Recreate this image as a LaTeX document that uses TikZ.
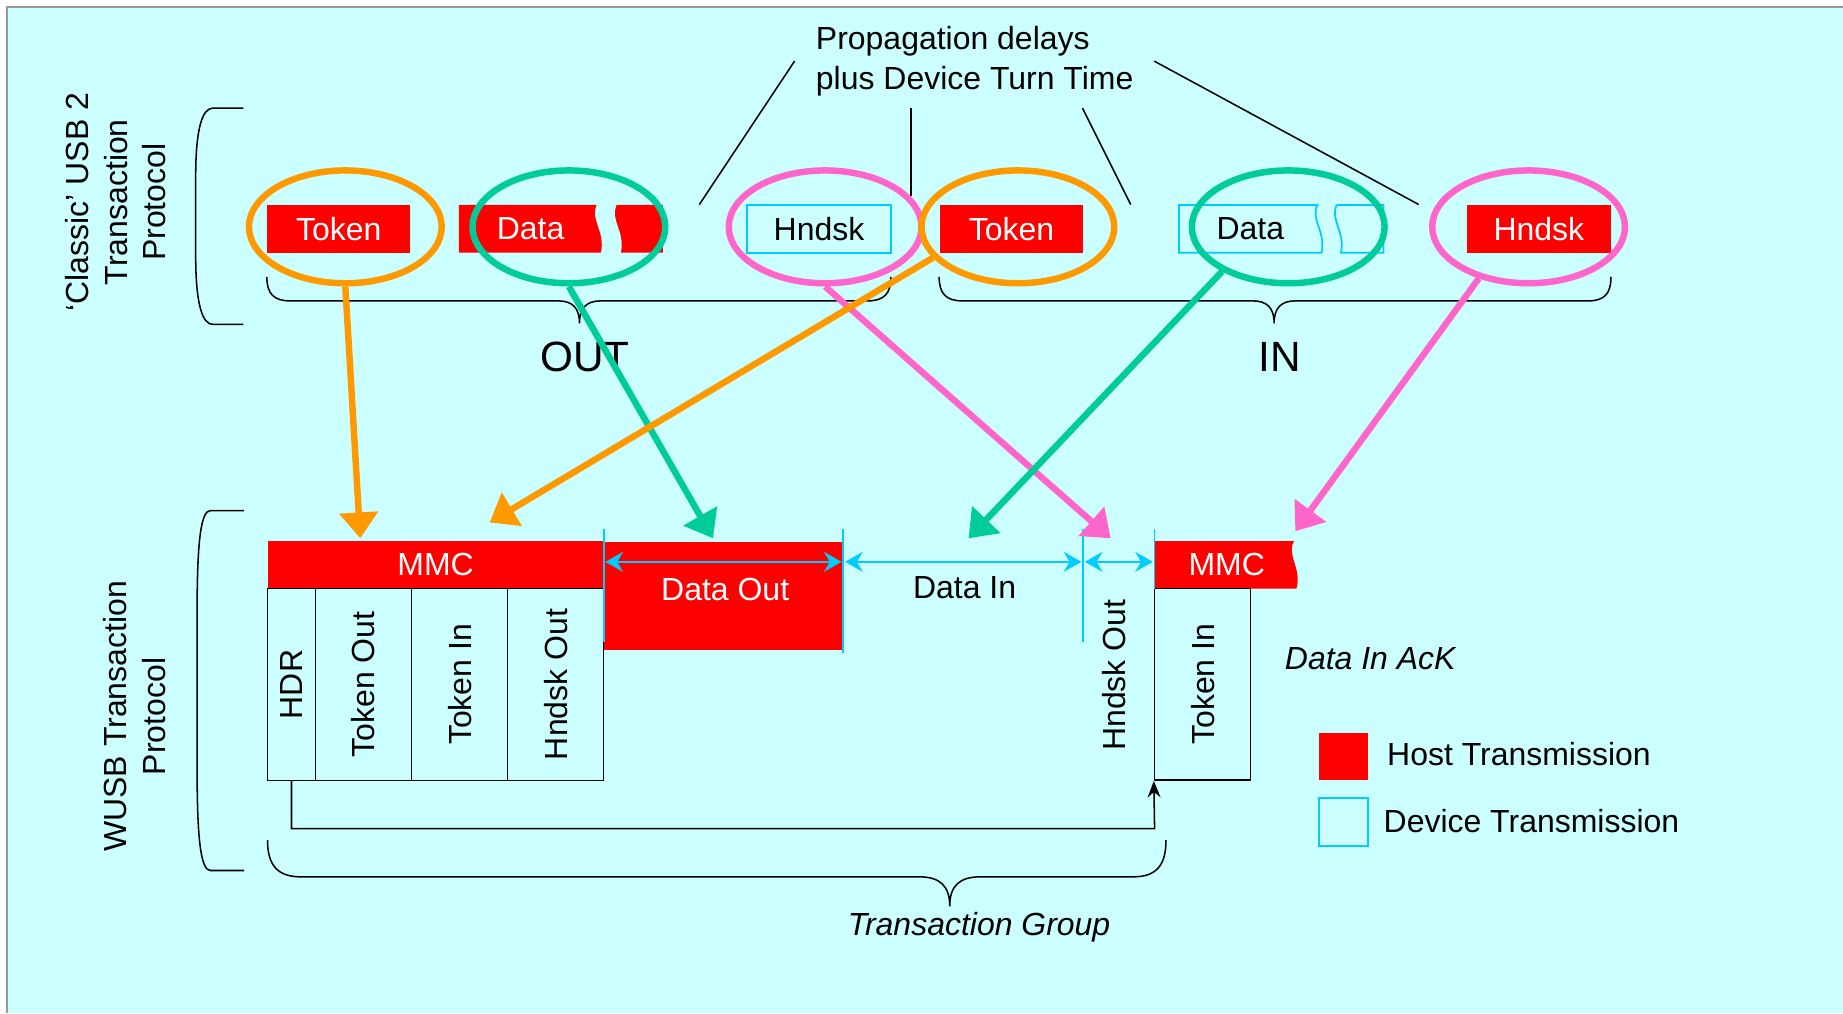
\documentclass[tikz,border=0pt]{standalone}
\usepackage{fontspec}
\setmainfont{Liberation Sans}
\usetikzlibrary{shapes.geometric,arrows.meta}
\definecolor{bgc}{HTML}{CCFFFF}
\definecolor{hostred}{HTML}{FF0000}
\definecolor{devcyan}{HTML}{00CCFF}
\definecolor{orng}{HTML}{FF9900}
\definecolor{tealc}{HTML}{00CC99}
\definecolor{pnk}{HTML}{FF66CC}
\definecolor{framec}{HTML}{999999}
\begin{document}
\begin{tikzpicture}[x=1pt,y=-1pt,
  txt/.style={font=\fontsize{27.2}{33}\selectfont, inner sep=0pt},
  itxt/.style={font=\fontsize{27.2}{33}\selectfont\itshape, inner sep=0pt},
  bigtxt/.style={font=\fontsize{36}{40}\selectfont, inner sep=0pt},
  hostpkt/.style={fill=hostred, text=white, font=\fontsize{27.2}{33}\selectfont, inner sep=0pt, minimum width=122pt, minimum height=40.5pt},
  devpkt/.style={draw=devcyan, line width=1.5pt, text=black, font=\fontsize{27.2}{33}\selectfont, inner sep=0pt, minimum width=122pt, minimum height=40.5pt},
  ring/.style={ellipse, draw=#1, line width=5.5pt, minimum width=164pt, minimum height=96pt, inner sep=0pt},
  bigarrow/.style={line width=5.5pt, draw=#1, -{Triangle[length=22pt,width=32pt]}},
  thinline/.style={line width=1.3pt, draw=black},
  bracestyle/.style={line width=1.3pt, draw=black},
  cyanline/.style={line width=1.5pt, draw=devcyan},
  dimarrow/.style={line width=1.5pt, draw=devcyan, {Stealth[length=15pt,width=17pt,inset=5pt]}-{Stealth[length=15pt,width=17pt,inset=5pt]}, shorten <=1.5pt, shorten >=1.5pt},
  cell/.style={draw=black, line width=1.3pt, inner sep=0pt, minimum height=163.1pt},
  hostbar/.style={fill=hostred, inner sep=0pt, text=white, font=\fontsize{27.2}{33}\selectfont}
]
\useasboundingbox (0,0) rectangle (1568,862);
% background and frame
\fill[white] (0,0) rectangle (1568,862);
\fill[bgc] (5.7,5.7) rectangle (1568,862);
\draw[framec, line width=1.7pt] (5.7,862) -- (5.7,5.7) -- (1568,5.7);

% side labels
\node[txt, rotate=90, align=center] (lblclassic) at (98.5,172) {‘Classic’ USB 2\\Transaction\\Protocol};
\node[txt, rotate=90, align=center] (lblwusb) at (114.4,609.5) {WUSB Transaction\\Protocol};

% side brackets
\draw[bracestyle] (207,92) -- (181,92) .. controls (172,92) and (166.5,110) .. (166.5,150) -- (166.5,218) .. controls (166.5,258) and (172,276) .. (181,276) -- (207,276);
\draw[bracestyle] (207.6,434.4) -- (179,434.4) .. controls (171,434.4) and (167.7,460) .. (167.7,520) -- (167.7,655) .. controls (167.7,715) and (171,740.6) .. (179,740.6) -- (207.6,740.6);

% propagation text and leader lines
\node[txt, anchor=base west] (prop1) at (694,42.5) {Propagation delays};
\node[txt, anchor=base west] (prop2) at (694,76) {plus Device Turn Time};
\coordinate (p1a) at (676,52);  \coordinate (p1b) at (595,174);
\coordinate (p2a) at (775,92);  \coordinate (p2b) at (775,167);
\coordinate (p3a) at (921,92);  \coordinate (p3b) at (962,174);
\coordinate (p4a) at (982,52);  \coordinate (p4b) at (1207,174);
\draw[thinline] (p1a) -- (p1b);
\draw[thinline] (p2a) -- (p2b);
\draw[thinline] (p3a) -- (p3b);
\draw[thinline] (p4a) -- (p4b);

% top row packets
\node[hostpkt] (tok1) at (288.2,194.7) {Token};
\fill[hostred] (390.5,174.4) -- (507.6,174.4) .. controls (502,188) and (515,196) .. (511.3,215) -- (390.5,215) -- cycle;
\fill[hostred] (524.6,174.4) -- (564,174.4) -- (564,215) -- (528.3,215) .. controls (532,196) and (519,188) .. (524.6,174.4) -- cycle;
\node[txt, text=white] (dat1) at (451.4,194.7) {Data};
\node[devpkt] (hs1) at (696.8,194.7) {Hndsk};
\node[hostpkt] (tok2) at (860.5,194.7) {Token};
\draw[devcyan, line width=1.5pt] (1124.4,215) -- (1003,215) -- (1003,174.4) -- (1120.7,174.4) .. controls (1115,188) and (1128,196) .. (1124.4,215);
\draw[devcyan, line width=1.5pt] (1137.2,174.4) -- (1177,174.4) -- (1177,215) -- (1140.9,215) .. controls (1144.5,196) and (1131.5,188) .. (1137.2,174.4);
\node[txt] (dat2) at (1063.8,194.7) {Data};
\node[hostpkt] (hs2) at (1309.2,194.7) {Hndsk};

% braces OUT / IN
\draw[bracestyle] (227,235.5) .. controls (227,250) and (233,256) .. (247,256) -- (475,256) .. controls (487,256) and (493,262) .. (493,275) .. controls (493,262) and (499,256) .. (511,256) -- (738,256) .. controls (752,256) and (758,250) .. (758,235.5);
\draw[bracestyle] (799,235.5) .. controls (799,250) and (805,256) .. (819,256) -- (1066,256) .. controls (1078,256) and (1084,262) .. (1084,275) .. controls (1084,262) and (1090,256) .. (1102,256) -- (1351,256) .. controls (1365,256) and (1370.6,250) .. (1370.6,235.5);
\node[bigtxt, anchor=base] (outl) at (497.5,316) {OUT};
\node[bigtxt, anchor=base] (inl) at (1088.6,316) {IN};

% ellipses
\node[ring=orng] (e1) at (293.8,193) {};
\node[ring=tealc] (e2) at (484,193) {};
\node[ring=pnk] (e3) at (702,193) {};
\node[ring=orng] (e4) at (866,193) {};
\node[ring=tealc] (e5) at (1096,193) {};
\node[ring=pnk] (e6) at (1300.5,193) {};

% lower section
\node[hostbar, minimum width=285.9pt, minimum height=40.5pt] (mmc1) at (370.65,480.55) {MMC};
\node[cell, minimum width=40.6pt] (hdr) at (248,582.35) {};
\node[cell, minimum width=81.9pt] (tko) at (309.25,582.35) {};
\node[cell, minimum width=81.6pt] (tki) at (391,582.35) {};
\node[cell, minimum width=81.8pt] (hso) at (472.7,582.35) {};
\node[txt, rotate=90] (lhdr) at (hdr.center) {HDR};
\node[txt, rotate=90] (ltko) at (tko.center) {Token Out};
\node[txt, rotate=90] (ltki) at (tki.center) {Token In};
\node[txt, rotate=90] (lhso) at (hso.center) {Hndsk Out};

\node[hostbar, minimum width=203.2pt, minimum height=92.2pt] (dout) at (615.2,506.9) {};
\node[txt, text=white, anchor=base] (doutl) at (617,511) {Data Out};

\fill[hostred] (982.3,460.3) -- (1101,460.3) .. controls (1094,472) and (1108,484) .. (1103,500.8) -- (982.3,500.8) -- cycle;
\node[txt, text=white] (mmc2) at (1043.7,480.5) {MMC};
\node[cell, minimum width=81.7pt] (tin2) at (1023.15,582.2) {};
\node[txt, rotate=90] (ltin2) at (tin2.center) {Token In};

% cyan ticks and dimension arrows
\coordinate (k1t) at (513.6,450); \coordinate (k1b) at (513.6,546);
\coordinate (k2t) at (717.5,450); \coordinate (k2b) at (717.5,555.7);
\coordinate (k3t) at (921.5,450); \coordinate (k3b) at (921.5,546);
\coordinate (k4t) at (982.3,450); \coordinate (k4b) at (982.3,500.8);
\draw[cyanline] (k1t) -- (k1b);
\draw[cyanline] (k2t) -- (k2b);
\draw[cyanline] (k3t) -- (k3b);
\draw[cyanline] (k4t) -- (k4b);
\coordinate (k1) at (513.6,478); \coordinate (k2) at (717.5,478);
\coordinate (k3) at (921.5,478); \coordinate (k4) at (982.3,478);
\draw[dimarrow] (k1) -- (k2);
\draw[dimarrow] (k2) -- (k3);
\draw[dimarrow] (k3) -- (k4);
\node[txt, anchor=base] (dinl) at (820.7,509) {Data In};
\node[txt, rotate=90] (hsol) at (948,574.5) {Hndsk Out};

% loop arrow
\coordinate (loopc) at (982.3,705);
\draw[thinline, -{Stealth[length=14pt,width=11pt]}] (hdr.south) |- (loopc) -- (tin2.south west);

% bottom brace
\draw[bracestyle] (227.6,714.7) .. controls (227.6,736) and (236,746) .. (256,746) -- (782,746) .. controls (800,746) and (808,754) .. (808,771) .. controls (808,754) and (816,746) .. (834,746) -- (964,746) .. controls (984,746) and (992,736) .. (992,714.7);
\node[itxt, anchor=base] (tgl) at (833,796) {Transaction Group};
\node[itxt, anchor=base west] (dack) at (1093,570) {Data In AcK};

% legend
\node[fill=hostred, inner sep=0pt, minimum width=42pt, minimum height=40.4pt] (lgh) at (1143,643.8) {};
\node[draw=devcyan, line width=1.5pt, inner sep=0pt, minimum width=42pt, minimum height=41pt] (lgd) at (1143,699.5) {};
\node[txt, anchor=base west] (lght) at (1180,651.5) {Host Transmission};
\node[txt, anchor=base west] (lgdt) at (1177,708) {Device Transmission};

% big arrows
\coordinate (ta1) at (306.5,458);
\coordinate (ta2) at (416.6,444.5);
\coordinate (ta3) at (606.6,458);
\coordinate (ta4) at (824,458);
\coordinate (ta5) at (945,458);
\coordinate (ta6) at (1102,452);
\draw[bigarrow=pnk] (e3.south) -- (ta5);
\draw[bigarrow=pnk] (e6.226) -- (ta6);
\draw[bigarrow=tealc] (e2.south) -- (ta3);
\draw[bigarrow=tealc] (e5.214) -- (ta4);
\draw[bigarrow=orng] (e1.south) -- (ta1);
\draw[bigarrow=orng] (e4.200) -- (ta2);
\end{tikzpicture}
\end{document}
